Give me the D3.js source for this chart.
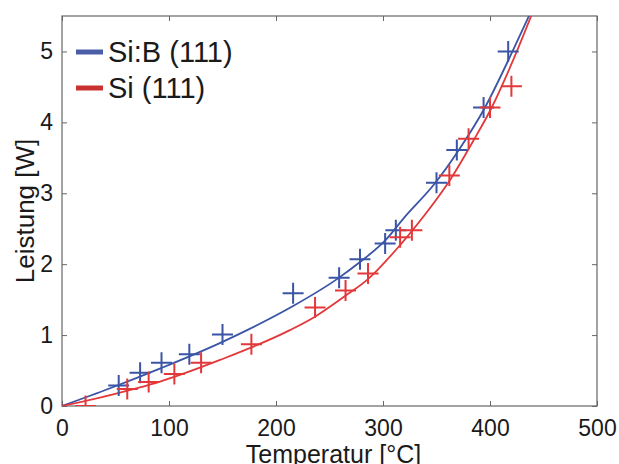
<!DOCTYPE html>
<html>
<head>
<meta charset="utf-8">
<script src="https://cdnjs.cloudflare.com/ajax/libs/d3/7.8.5/d3.min.js"></script>
<style>
    body {margin: 0; background: #fff;}
    text {font-family: "Liberation Sans", Arial, sans-serif; fill: #1a1a1a;}
</style>
</head>
<body>
<div id="chart"></div>
<script>
// measured points (temperature in °C, power in W)
var siBTemp = [53, 73, 93, 119, 150, 216, 259, 278.5, 302, 312, 350, 369, 394, 417];
var siBPower = [0.29, 0.47, 0.61, 0.73, 1.01, 1.59, 1.81, 2.07, 2.29, 2.48, 3.15, 3.61, 4.21, 5.0];
var siTemp = [22, 61, 81, 105, 130, 177, 236.5, 265, 286, 316, 327, 362, 380, 400, 420];
var siPower = [0.0, 0.24, 0.34, 0.45, 0.61, 0.87, 1.39, 1.63, 1.87, 2.38, 2.48, 3.25, 3.77, 4.21, 4.51];

// fitted curves
var siBFitTemp = [0, 45, 92, 148, 173, 216, 258, 278.5, 303, 320, 348, 370.4, 395.3, 421, 437];
var siBFitPower = [0, 0.25, 0.53, 0.89, 1.07, 1.41, 1.80, 2.03, 2.35, 2.66, 3.13, 3.60, 4.21, 5.0, 5.52];
var siFitTemp = [0, 45, 91.6, 147.7, 213, 236.5, 264.5, 286, 316, 339.3, 364, 384.4, 401.6, 420, 439];
var siFitPower = [0, 0.155, 0.345, 0.65, 1.07, 1.26, 1.55, 1.79, 2.27, 2.70, 3.22, 3.74, 4.21, 4.82, 5.52];

var xTicks = [0, 100, 200, 300, 400, 500];
var yTicks = [0, 1, 2, 3, 4, 5];
var seriesNames = ["Si:B (111)", "Si (111)"];

var blue = "#3a54a6", red = "#e2383a";

var W = 619, H = 464;
var margin = {top: 16, right: 22, bottom: 58, left: 62},
    width = W - margin.left - margin.right,
    height = H - margin.top - margin.bottom;

var svg = d3.select("#chart").append("svg")
    .attr("width", W)
    .attr("height", H)
    .append("g")
    .attr("transform", "translate(" + margin.left + "," + margin.top + ")");

var x = d3.scaleLinear().domain([0, 500]).range([0, width]);
var y = d3.scaleLinear().domain([0, 5.5]).range([height, 0]);

svg.append("clipPath").attr("id", "clip")
    .append("rect").attr("width", width).attr("height", height);

//axes, ticks inward on all sides
var axisColor = "#666";
var tickLen = 5;
function styleAxis(g) {
    g.select(".domain").remove();
    g.selectAll(".tick line").attr("stroke", axisColor);
    g.selectAll(".tick text").style("font-size", "23px").attr("fill", "#1a1a1a");
}
svg.append("g")
    .attr("transform", "translate(0," + height + ")")
    .call(d3.axisBottom(x).tickValues(xTicks).tickSize(-tickLen).tickPadding(14))
    .call(styleAxis);
svg.append("g")
    .call(d3.axisTop(x).tickValues(xTicks).tickSize(-tickLen).tickFormat(""))
    .call(styleAxis);
svg.append("g")
    .call(d3.axisLeft(y).tickValues(yTicks).tickSize(-tickLen).tickPadding(9).tickFormat(d3.format("d")))
    .call(styleAxis);
svg.append("g")
    .attr("transform", "translate(" + width + ",0)")
    .call(d3.axisRight(y).tickValues(yTicks).tickSize(-tickLen).tickFormat(""))
    .call(styleAxis);

svg.append("rect")
    .attr("width", width)
    .attr("height", height)
    .attr("fill", "none")
    .attr("stroke", axisColor)
    .attr("stroke-width", 1.2);

//axis titles
svg.append("text")
    .attr("x", width / 2 + 4)
    .attr("y", height + 57)
    .attr("text-anchor", "middle")
    .style("font-size", "25px")
    .text("Temperatur [°C]");
svg.append("text")
    .attr("transform", "translate(" + (-28) + "," + (height / 2) + ") rotate(-90)")
    .attr("text-anchor", "middle")
    .style("font-size", "26px")
    .text("Leistung [W]");

//fit lines
var line = d3.line()
    .x(function (d) { return x(d[0]); })
    .y(function (d) { return y(d[1]); })
    .curve(d3.curveMonotoneX);

var plot = svg.append("g").attr("clip-path", "url(#clip)");
var fits = [
    {t: siBFitTemp, p: siBFitPower, c: blue},
    {t: siFitTemp, p: siFitPower, c: red}
];
fits.forEach(function (f) {
    plot.append("path")
        .datum(d3.zip(f.t, f.p))
        .attr("fill", "none")
        .attr("stroke", f.c)
        .attr("stroke-width", 1.8)
        .attr("d", line);
});

//plus markers
var pts = [
    {t: siBTemp, p: siBPower, c: blue},
    {t: siTemp, p: siPower, c: red}
];
var s = 10.5;
pts.forEach(function (ser) {
    var g = plot.append("g").selectAll("g")
        .data(d3.zip(ser.t, ser.p))
        .enter().append("g")
        .attr("transform", function (d) { return "translate(" + x(d[0]) + "," + y(d[1]) + ")"; });
    g.append("path")
        .attr("d", "M" + (-s) + ",0H" + s + "M0," + (-s) + "V" + s)
        .attr("stroke", ser.c)
        .attr("stroke-width", 2)
        .attr("fill", "none");
});

//legend
var legend = svg.append("g")
    .selectAll("g")
    .data(seriesNames)
    .enter().append("g")
    .attr("transform", function (d, i) { return "translate(14," + (36 + i * 36) + ")"; });
legend.append("line")
    .attr("x1", 0).attr("x2", 27)
    .attr("stroke", function (d, i) { return i === 0 ? "#4a5da8" : "#c93130"; })
    .attr("stroke-width", 5);
legend.append("text")
    .attr("x", 32)
    .attr("y", 10)
    .style("font-size", "29px")
    .text(function (d) { return d; });
</script>
</body>
</html>
